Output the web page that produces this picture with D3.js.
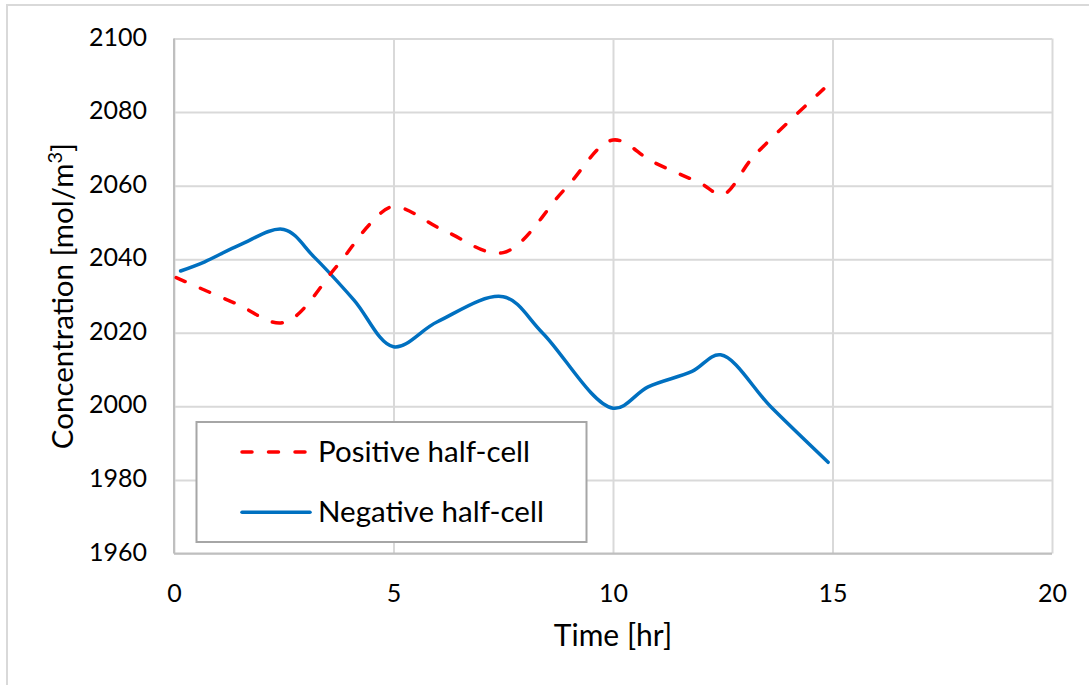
<!DOCTYPE html>
<html>
<head>
<meta charset="utf-8">
<script src="https://cdn.jsdelivr.net/npm/d3@7"></script>
<style>
  body { margin: 0; background: #fff; }
  svg { display: block; font-family: Lato, "Open Sans", sans-serif; }
  .grid line { stroke: #d9d9d9; stroke-width: 2; }
  .grid path { display: none; }
  .tick text { fill: #000; }
</style>
</head>
<body>
<svg></svg>
<script>
const width = 1089;
const height = 685;

// Positive half-cell (red dashed)
const posTime = [0.05, 1.4, 2.5, 3.7, 4.5, 5.0, 6.2, 7.5, 8.9, 10.0, 10.9, 12.0, 12.5, 13.2, 14.8];
const posConc = [2035, 2028, 2022.8, 2038, 2050, 2054.3, 2047.5, 2041.8, 2059, 2072.4, 2066.5, 2060.6, 2057.6, 2067.9, 2086.3];

// Negative half-cell (blue solid)
const negTime = [0.15, 0.7, 1.5, 2.5, 3.2, 4.1, 5.0, 6.0, 7.5, 8.4, 10.0, 10.8, 11.8, 12.45, 13.6, 14.9];
const negConc = [2036.8, 2039.3, 2043.9, 2048.1, 2040.5, 2028.9, 2016.2, 2023, 2029.8, 2019.9, 1999.5, 2005.3, 2009.5, 2014, 1999.8, 1984.8];

const xTicks = [0, 5, 10, 15, 20];
const yTicks = [1960, 1980, 2000, 2020, 2040, 2060, 2080, 2100];

const margin = { left: 174, right: 1052, top: 38.5, bottom: 553.5 };

const svg = d3.select("svg")
    .attr("width", width)
    .attr("height", height);

// outer chart border
svg.append("rect")
    .attr("x", 7).attr("y", 5)
    .attr("width", width + 10).attr("height", height + 10)
    .attr("fill", "#fff")
    .attr("stroke", "#d9d9d9")
    .attr("stroke-width", 2);

const x = d3.scaleLinear().domain([0, 20]).range([margin.left, margin.right]);
const y = d3.scaleLinear().domain([1960, 2100]).range([margin.bottom, margin.top]);

// gridlines
svg.append("g")
    .attr("class", "grid")
    .attr("transform", `translate(0,${margin.bottom})`)
    .call(d3.axisBottom(x).tickValues(xTicks).tickSize(-(margin.bottom - margin.top)).tickFormat(""));

svg.append("g")
    .attr("class", "grid")
    .attr("transform", `translate(${margin.left},0)`)
    .call(d3.axisLeft(y).tickValues(yTicks).tickSize(-(margin.right - margin.left)).tickFormat(""));

// axis lines
svg.append("line")
    .attr("x1", margin.left).attr("x2", margin.left)
    .attr("y1", margin.top).attr("y2", margin.bottom)
    .attr("stroke", "#bfbfbf").attr("stroke-width", 2);
svg.append("line")
    .attr("x1", margin.left).attr("x2", margin.right)
    .attr("y1", margin.bottom).attr("y2", margin.bottom)
    .attr("stroke", "#bfbfbf").attr("stroke-width", 2);

// tick labels
const xAxis = svg.append("g")
    .attr("transform", `translate(0,${margin.bottom})`)
    .call(d3.axisBottom(x).tickValues(xTicks).tickFormat(d3.format("d")).tickSize(0).tickPadding(0));
xAxis.select(".domain").remove();
xAxis.selectAll("text")
    .attr("y", 48.5).attr("dy", null)
    .attr("font-size", 25).attr("font-family", "Lato");

const yAxis = svg.append("g")
    .attr("transform", `translate(${margin.left},0)`)
    .call(d3.axisLeft(y).tickValues(yTicks).tickFormat(d3.format("d")).tickSize(0).tickPadding(0));
yAxis.select(".domain").remove();
yAxis.selectAll("text")
    .attr("x", -27).attr("dy", 6.5)
    .attr("font-size", 25).attr("font-family", "Lato");

// axis titles
svg.append("text")
    .attr("x", (margin.left + margin.right) / 2)
    .attr("y", 646)
    .attr("text-anchor", "middle")
    .attr("font-size", 30)
    .text("Time [hr]");

const yTitle = svg.append("text")
    .attr("transform", `translate(73,${(margin.top + margin.bottom) / 2}) rotate(-90)`)
    .attr("text-anchor", "middle")
    .attr("font-size", 29.5);
yTitle.append("tspan").text("Concentration [mol/m");
yTitle.append("tspan").attr("dy", -11).attr("font-size", 20).text("3");
yTitle.append("tspan").attr("dy", 11).text("]");

// lines
const line = d3.line()
    .x(d => x(d[0]))
    .y(d => y(d[1]))
    .curve(d3.curveCatmullRom.alpha(0.5));

const posData = d3.zip(posTime, posConc);
const negData = d3.zip(negTime, negConc);

svg.append("path")
    .datum(negData)
    .attr("d", line)
    .attr("fill", "none")
    .attr("stroke", "#0070c0")
    .attr("stroke-width", 3.5)
    .attr("stroke-linecap", "round");

svg.append("path")
    .datum(posData)
    .attr("d", line)
    .attr("fill", "none")
    .attr("stroke", "#ff0000")
    .attr("stroke-width", 3.5)
    .attr("stroke-linecap", "round")
    .attr("stroke-dasharray", "10,16.5");

// legend
const legend = svg.append("g");
legend.append("rect")
    .attr("x", 196.5).attr("y", 422)
    .attr("width", 390).attr("height", 120)
    .attr("fill", "#fff")
    .attr("stroke", "#a6a6a6")
    .attr("stroke-width", 2);

const legendItems = [
    { name: "Positive half-cell", color: "#ff0000", dash: "10,16.5", y: 452 },
    { name: "Negative half-cell", color: "#0070c0", dash: null, y: 512.3 }
];

legendItems.forEach(d => {
    legend.append("line")
        .attr("x1", 242).attr("x2", 310)
        .attr("y1", d.y).attr("y2", d.y)
        .attr("stroke", d.color)
        .attr("stroke-width", 3.5)
        .attr("stroke-linecap", "round")
        .attr("stroke-dasharray", d.dash);
    legend.append("text")
        .attr("x", 318)
        .attr("y", d.y + 10)
        .attr("font-size", 29.5)
        .text(d.name);
});
</script>
</body>
</html>
